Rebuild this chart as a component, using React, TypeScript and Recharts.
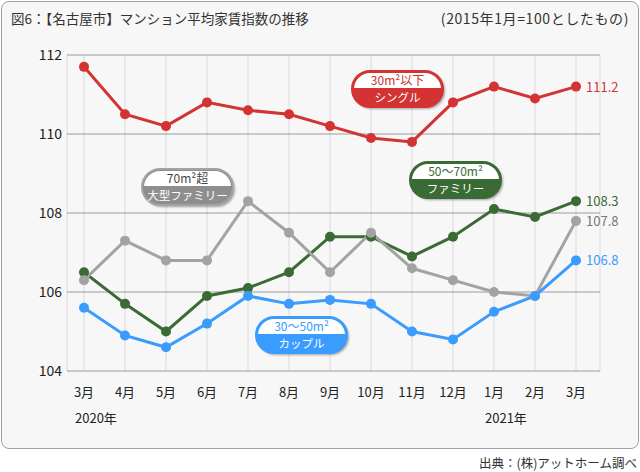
import React from 'react';
import { LineChart, Line, XAxis, YAxis, CartesianGrid, LabelList } from 'recharts';

const months = ['3月', '4月', '5月', '6月', '7月', '8月', '9月', '10月', '11月', '12月', '1月', '2月', '3月'];
const yearLabels: { [i: number]: string } = { 0: '2020年', 10: '2021年' };
const yTicks = [104, 106, 108, 110, 112];

const single = [111.7, 110.5, 110.2, 110.8, 110.6, 110.5, 110.2, 109.9, 109.8, 110.8, 111.2, 110.9, 111.2];
const couple = [105.6, 104.9, 104.6, 105.2, 105.9, 105.7, 105.8, 105.7, 105.0, 104.8, 105.5, 105.9, 106.8];
const family = [106.5, 105.7, 105.0, 105.9, 106.1, 106.5, 107.4, 107.4, 106.9, 107.4, 108.1, 107.9, 108.3];
const large = [106.3, 107.3, 106.8, 106.8, 108.3, 107.5, 106.5, 107.5, 106.6, 106.3, 106.0, 105.9, 107.8];

const data = months.map((m, i) => ({
  key: `${i}`,
  month: m,
  single: single[i],
  couple: couple[i],
  family: family[i],
  large: large[i],
}));

const FONT = '"Noto Sans CJK JP", "Noto Sans", sans-serif';

const RED = '#d33333';
const GREEN = '#3b6b35';
const GREY = '#a3a3a3';
const BLUE = '#3a9cff';

const MonthTick = (props: any) => {
  const { x, y, payload, index } = props;
  const year = yearLabels[index];
  return (
    <g>
      <text x={x} y={y + 26} textAnchor="middle" fontSize={13} fill="#222" fontFamily={FONT}>
        {months[index] ?? payload.value}
      </text>
      {year && (
        <text x={x - 9} y={y + 52} textAnchor="start" fontSize={13} fill="#222" fontFamily={FONT}>
          {year}
        </text>
      )}
    </g>
  );
};

const ValueTick = (props: any) => {
  const { x, y, payload } = props;
  return (
    <text x={x} y={y} dy={5} textAnchor="end" fontSize={14} fill="#222" fontFamily={FONT}>
      {payload.value}
    </text>
  );
};

const endLabel = (color: string) => (props: any) => {
  const { x, y, index, value } = props;
  if (index !== months.length - 1) return null;
  return (
    <text x={x + 10} y={y} dy={5} fontSize={13} fill={color} fontFamily={FONT}>
      {Number(value).toFixed(1)}
    </text>
  );
};

// pill badge drawn in svg: white upper half with coloured text, coloured lower half with white text
const Badge = ({ id, x, y, color, topColor, bottomColor, upper, lower }: any) => {
  const w = 91;
  const h = 36;
  return (
    <g>
      <rect x={x + 2} y={y + 2} width={w} height={h} rx={h / 2} fill="rgba(0,0,0,0.35)" filter="url(#blur)" />
      <rect x={x} y={y} width={w} height={h} rx={h / 2} fill={bottomColor ?? color} stroke={color} strokeWidth={2} />
      <clipPath id={id}>
        <rect x={x + 2} y={y + 2} width={w - 4} height={h - 4} rx={(h - 4) / 2} />
      </clipPath>
      <rect x={x} y={y} width={w} height={17} fill="#fff" clipPath={`url(#${id})`} />
      <text x={x + w / 2} y={y + 14} textAnchor="middle" fontSize={12} fill={topColor} fontFamily={FONT}>
        {upper}
      </text>
      <text x={x + w / 2} y={y + 31} textAnchor="middle" fontSize={11.5} fill="#fff" fontFamily={FONT}>
        {lower}
      </text>
    </g>
  );
};

export default function App() {
  return (
    <div style={{ position: 'absolute', left: 0, top: 0, width: 640, height: 472, background: '#fff', fontFamily: FONT }}>
      <div
        style={{
          position: 'absolute',
          left: 1,
          top: 1,
          width: 636,
          height: 446,
          border: '1px solid #a0a0a0',
          borderRadius: 8,
          background: '#f7f7f7',
        }}
      />
      <div style={{ position: 'absolute', left: 11, top: 8, fontSize: 13.5, color: '#333' }}>
        図6：【名古屋市】マンション平均家賃指数の推移
      </div>
      <div style={{ position: 'absolute', right: 11, top: 8, fontSize: 14, letterSpacing: 0.6, color: '#333' }}>
        (2015年1月=100としたもの)
      </div>
      <div style={{ position: 'absolute', right: 3, top: 453, fontSize: 12.5, color: '#333' }}>
        出典：(株)アットホーム調べ
      </div>
      <div style={{ position: 'absolute', left: 0, top: 0 }}>
        <LineChart width={640} height={472} data={data} margin={{ top: 55, right: 40, bottom: 41, left: 7 }}>
          <CartesianGrid horizontal={false} stroke="#dadada" />
          <CartesianGrid vertical={false} stroke="#9a9a9a" />
          <XAxis
            dataKey="key"
            axisLine={false}
            tickLine={false}
            tickSize={0}
            tickMargin={0}
            interval={0}
            padding={{ left: 17, right: 24 }}
            tick={<MonthTick />}
            height={60}
          />
          <YAxis
            domain={[104, 112]}
            ticks={yTicks}
            axisLine={false}
            tickLine={false}
            tickSize={0}
            tickMargin={5}
            width={60}
            tick={<ValueTick />}
          />
          <Line dataKey="family" stroke={GREEN} strokeWidth={3} dot={{ r: 5, fill: GREEN, stroke: GREEN, strokeWidth: 0 }} isAnimationActive={false}>
            <LabelList dataKey="family" content={endLabel(GREEN)} />
          </Line>
          <Line dataKey="large" stroke={GREY} strokeWidth={3} dot={{ r: 5, fill: GREY, stroke: GREY, strokeWidth: 0 }} isAnimationActive={false}>
            <LabelList dataKey="large" content={endLabel('#777')} />
          </Line>
          <Line dataKey="couple" stroke={BLUE} strokeWidth={3} dot={{ r: 5, fill: BLUE, stroke: BLUE, strokeWidth: 0 }} isAnimationActive={false}>
            <LabelList dataKey="couple" content={endLabel(BLUE)} />
          </Line>
          <Line dataKey="single" stroke={RED} strokeWidth={3} dot={{ r: 5, fill: RED, stroke: RED, strokeWidth: 0 }} isAnimationActive={false}>
            <LabelList dataKey="single" content={endLabel(RED)} />
          </Line>
        </LineChart>
      </div>
      <svg width={640} height={472} style={{ position: 'absolute', left: 0, top: 0, pointerEvents: 'none' }}>
        <defs>
          <filter id="blur" x="-10%" y="-20%" width="120%" height="140%">
            <feGaussianBlur stdDeviation={1.2} />
          </filter>
        </defs>
        <Badge id="bs" x={352} y={71} color={RED} topColor="#c83030" upper="30m²以下" lower="シングル" />
        <Badge id="bl" x={142} y={169} color={GREY} bottomColor="#8e8e8e" topColor="#444" upper="70m²超" lower="大型ファミリー" />
        <Badge id="bf" x={410} y={162} color={GREEN} topColor={GREEN} upper="50〜70m²" lower="ファミリー" />
        <Badge id="bc" x={256} y={317} color={BLUE} topColor={BLUE} upper="30〜50m²" lower="カップル" />
      </svg>
    </div>
  );
}
